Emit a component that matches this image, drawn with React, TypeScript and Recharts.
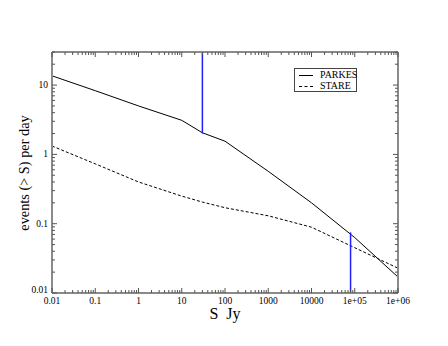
import { LineChart, Line, XAxis, YAxis, ReferenceLine } from 'recharts';

// flux S (Jy) and cumulative event rates
const sFlux = [0.01, 0.1, 1, 10, 30, 100, 1000, 10000, 100000, 1000000];
const parkes = [13.6, 8.3, 5.0, 3.1, 2.05, 1.55, 0.57, 0.2, 0.063, 0.017];
const stare = [1.32, 0.73, 0.4, 0.25, 0.205, 0.17, 0.13, 0.089, 0.045, 0.0228];

// vertical blue markers: [x, yFrom, yTo]
const markers = [
  [30, 2.0, 30],
  [80000, 0.01, 0.075],
];

const xMajor = [0.01, 0.1, 1, 10, 100, 1000, 10000, 100000, 1000000];
const xLabels = ['0.01', '0.1', '1', '10', '100', '1000', '10000', '1e+05', '1e+06'];
const yMajor = [0.01, 0.1, 1, 10];
const yLabels = ['0.01', '0.1', '1', '10'];

const W = 448;
const H = 346;
const LEFT = 52;
const RIGHT = 398;
const TOP = 52;
const BOTTOM = 293;
const AX = 1; // thin axis boxes

const minorOf = (majors: number[], max: number) => {
  const out: number[] = [];
  majors.forEach((m) => {
    for (let k = 1; k <= 9; k++) {
      const v = m * k;
      if (v <= max * 1.0001) out.push(v);
    }
  });
  return out;
};

const xTicks = minorOf(xMajor, 1000000);
const yTicks = minorOf(yMajor, 30);

const chartData = sFlux.map((s, i) => ({ s, parkes: parkes[i], stare: stare[i] }));

const isMajor = (v: number, majors: number[]) => majors.some((m) => Math.abs(v / m - 1) < 1e-6);

const TICK = '#555';
const AXIS = '#8a8a8a';
const FONT = '"Liberation Serif", "Times New Roman", serif';

function XTick(side: 'bottom' | 'top') {
  return (props: any) => {
    const { x, payload } = props;
    const v = payload.value;
    const major = isMajor(v, xMajor);
    const len = major ? 5 : 3;
    const y0 = side === 'bottom' ? BOTTOM : TOP;
    const y1 = side === 'bottom' ? BOTTOM - len : TOP + len;
    const idx = xMajor.findIndex((m) => Math.abs(v / m - 1) < 1e-6);
    return (
      <g>
        <line x1={x} x2={x} y1={y0} y2={y1} stroke={TICK} strokeWidth={1} />
        {side === 'bottom' && major && (
          <text x={x} y={BOTTOM + 11} textAnchor="middle" fontSize={9.5} fontFamily={FONT} fill="#000">
            {xLabels[idx]}
          </text>
        )}
      </g>
    );
  };
}

function YTick(side: 'left' | 'right') {
  return (props: any) => {
    const { y, payload } = props;
    const v = payload.value;
    const major = isMajor(v, yMajor);
    const len = major ? 5 : 3;
    const x0 = side === 'left' ? LEFT : RIGHT;
    const x1 = side === 'left' ? LEFT + len : RIGHT - len;
    const idx = yMajor.findIndex((m) => Math.abs(v / m - 1) < 1e-6);
    return (
      <g>
        <line x1={x0} x2={x1} y1={y} y2={y} stroke={TICK} strokeWidth={1} />
        {side === 'left' && major && (
          <text x={LEFT - 4} y={y + (idx === 0 ? 0 : 3)} textAnchor="end" fontSize={9.5} fontFamily={FONT} fill="#000">
            {yLabels[idx]}
          </text>
        )}
      </g>
    );
  };
}

export default function App() {
  return (
    <div style={{ position: 'absolute', left: 0, top: 0, width: W, height: H, background: '#fff', fontFamily: FONT }}>
      <LineChart
        width={W}
        height={H}
        data={chartData}
        margin={{ top: TOP - AX, right: W - RIGHT - AX, bottom: H - BOTTOM - AX, left: LEFT - AX }}
      >
        <XAxis
          dataKey="s"
          type="number"
          scale="log"
          domain={[0.01, 1000000]}
          allowDataOverflow
          ticks={xTicks}
          interval={0}
          height={AX}
          tickLine={false}
          axisLine={{ stroke: AXIS, strokeWidth: 2 }}
          tick={XTick('bottom')}
        />
        <XAxis
          xAxisId="top"
          orientation="top"
          dataKey="s"
          type="number"
          scale="log"
          domain={[0.01, 1000000]}
          allowDataOverflow
          ticks={xTicks}
          interval={0}
          height={AX}
          tickLine={false}
          axisLine={{ stroke: AXIS, strokeWidth: 2 }}
          tick={XTick('top')}
        />
        <YAxis
          type="number"
          scale="log"
          domain={[0.01, 30]}
          allowDataOverflow
          ticks={yTicks}
          interval={0}
          width={AX}
          tickLine={false}
          axisLine={{ stroke: AXIS, strokeWidth: 2 }}
          tick={YTick('left')}
        />
        <YAxis
          yAxisId="right"
          orientation="right"
          type="number"
          scale="log"
          domain={[0.01, 30]}
          allowDataOverflow
          ticks={yTicks}
          interval={0}
          width={AX}
          tickLine={false}
          axisLine={{ stroke: AXIS, strokeWidth: 2 }}
          tick={YTick('right')}
        />
        <Line dataKey="parkes" stroke="#000" strokeWidth={1} dot={false} isAnimationActive={false} />
        <Line
          dataKey="stare"
          stroke="#000"
          strokeWidth={1}
          strokeDasharray="3 2"
          dot={false}
          isAnimationActive={false}
        />
        {markers.map(([x, y0, y1], i) => (
          <ReferenceLine
            key={i}
            segment={[
              { x, y: y0 },
              { x, y: y1 },
            ]}
            stroke="#2020ff"
            strokeWidth={1.5}
          />
        ))}
      </LineChart>

      {/* axis titles */}
      <div
        style={{
          position: 'absolute',
          left: 24,
          top: 173,
          transform: 'translate(-50%, -50%) rotate(-90deg)',
          whiteSpace: 'nowrap',
          fontSize: 14.3,
          lineHeight: 1,
        }}
      >
        events (&gt; S) per day
      </div>
      <div
        style={{
          position: 'absolute',
          left: 225,
          top: 314,
          transform: 'translate(-50%, -50%)',
          whiteSpace: 'pre',
          fontSize: 16,
          lineHeight: 1,
        }}
      >
        {'S  Jy'}
      </div>

      {/* legend */}
      <div
        style={{
          position: 'absolute',
          left: 294,
          top: 68,
          width: 63,
          height: 24,
          border: '1px solid #444',
          boxSizing: 'border-box',
          fontSize: 10,
          lineHeight: 1,
        }}
      >
        <div style={{ position: 'absolute', left: 4, top: 5.5, width: 14, borderTop: '1px solid #000' }} />
        <div style={{ position: 'absolute', left: 25, top: 1 }}>PARKES</div>
        <div style={{ position: 'absolute', left: 4, top: 17, width: 14, borderTop: '1px dashed #000' }} />
        <div style={{ position: 'absolute', left: 25, top: 12 }}>STARE</div>
      </div>
    </div>
  );
}
